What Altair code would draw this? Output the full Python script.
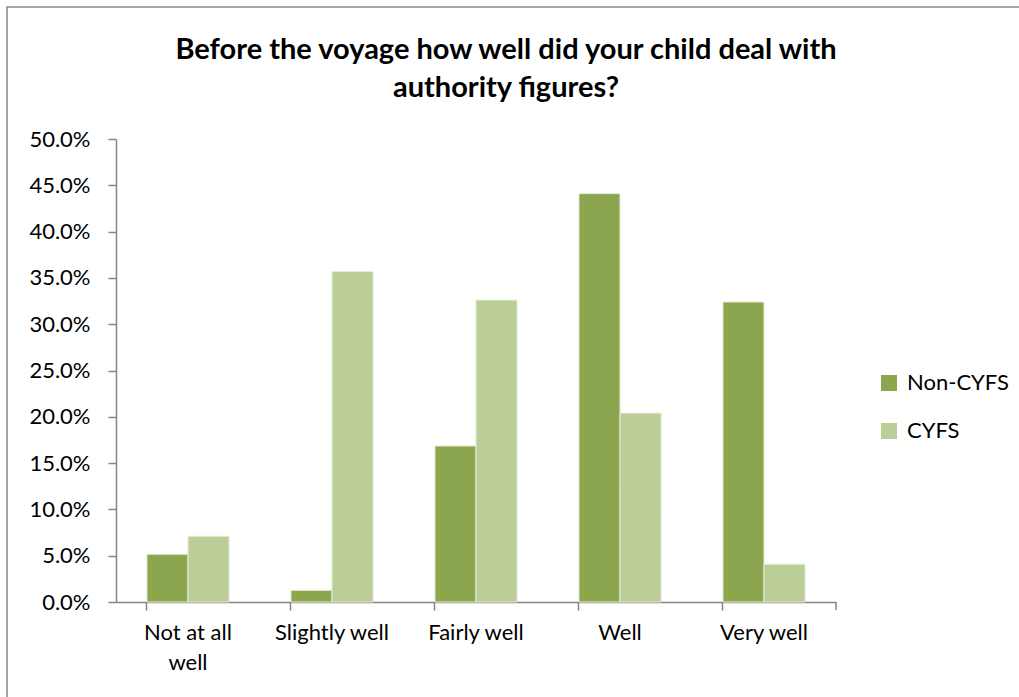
import altair as alt
import pandas as pd

title_lines = ["Before the voyage how well did your child deal with", "authority figures?"]
categories = ["Not at all well", "Slightly well", "Fairly well", "Well", "Very well"]
series = ["Non-CYFS", "CYFS"]
non_cyfs = [0.0515, 0.0126, 0.1685, 0.441, 0.324]
cyfs = [0.071, 0.357, 0.326, 0.204, 0.0407]
y_ticks = [i / 100 for i in range(0, 55, 5)]

rows = []
for c, a, b in zip(categories, non_cyfs, cyfs):
    rows.append({"category": c, "group": series[0], "value": a})
    rows.append({"category": c, "group": series[1], "value": b})
df = pd.DataFrame(rows)

FONT = "Lato"
AXIS_COLOR = "#868686"
W, H = 720, 463

bars = alt.Chart(df).mark_bar(stroke="#e4ecd4", strokeWidth=1).encode(
    x=alt.X("category:N", sort=categories, title=None,
            scale=alt.Scale(paddingInner=0.43, paddingOuter=0.215),
            axis=alt.Axis(labelAngle=0, bandPosition=0, tickSize=8, tickWidth=1.5,
                          tickColor=AXIS_COLOR, domainColor=AXIS_COLOR, domainWidth=1.5,
                          labelFontSize=22, labelFont=FONT, labelColor="#000000",
                          labelPadding=12, labelLineHeight=30,
                          labelExpr="datum.value == 'Not at all well' ? ['Not at all', 'well'] : datum.value")),
    xOffset=alt.XOffset("group:N", sort=series),
    y=alt.Y("value:Q", title=None,
            scale=alt.Scale(domain=[0, 0.5], nice=False),
            axis=alt.Axis(values=y_ticks, format=".1%", grid=False, tickSize=8, tickWidth=1.5,
                          tickColor=AXIS_COLOR, domainColor=AXIS_COLOR, domainWidth=1.5,
                          labelFontSize=22, labelFont=FONT, labelColor="#000000",
                          labelPadding=18)),
    color=alt.Color("group:N", sort=series, title=None,
                    scale=alt.Scale(domain=series, range=["#8ba64f", "#bbce97"]),
                    legend=alt.Legend(orient="none", legendX=762, legendY=233,
                                      symbolType="square", symbolSize=256,
                                      symbolStrokeWidth=0,
                                      labelFontSize=22, labelFont=FONT, labelColor="#000000",
                                      rowPadding=26, labelOffset=7)),
)

end_tick = alt.Chart(pd.DataFrame({"k": [0]})).mark_rule(
    color=AXIS_COLOR, strokeWidth=1.5).encode(
    x=alt.value(W), y=alt.value(H), y2=alt.value(H + 8))

border = alt.Chart(pd.DataFrame({"k": [0]})).mark_rect(
    fill=None, stroke=AXIS_COLOR, strokeWidth=1.5, clip=False).encode(
    x=alt.value(-109), x2=alt.value(W + 300), y=alt.value(-132), y2=alt.value(H + 300))

title1 = alt.Chart(pd.DataFrame({"t": [title_lines[0]]})).mark_text(
    font=FONT, fontSize=29, fontWeight="bold", color="#000000",
    align="center", baseline="alphabetic").encode(
    text="t:N", x=alt.value(390), y=alt.value(-80))
title2 = alt.Chart(pd.DataFrame({"t": [title_lines[1]]})).mark_text(
    font=FONT, fontSize=29, fontWeight="bold", color="#000000",
    align="center", baseline="alphabetic").encode(
    text="t:N", x=alt.value(390), y=alt.value(-42))

chart = alt.layer(border, bars, end_tick, title1, title2).properties(
    width=W, height=H,
    padding={"left": 116, "top": 139, "right": 183, "bottom": 95},
    autosize=alt.AutoSizeParams(type="none"),
).configure_view(stroke=None)

chart.save("out.html", embed_options={"renderer": "svg", "actions": False})
